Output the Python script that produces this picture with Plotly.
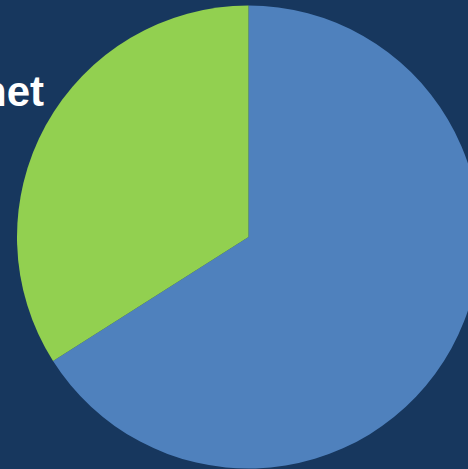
import plotly.graph_objects as go

labels = ["Other", "Internet"]
values = [66, 34]
colors = ["#4F81BD", "#92D050"]
title_text = "Internet"

W, H = 480, 469
fig = go.Figure(go.Pie(
    labels=labels,
    values=values,
    sort=False,
    direction="clockwise",
    rotation=0,
    marker=dict(colors=colors, line=dict(width=0)),
    textinfo="none",
    hoverinfo="label+percent",
    domain=dict(x=[17 / W, 1], y=[0.5 / H, 463.5 / H]),
))
fig.add_annotation(
    text="<b>" + title_text + "</b>",
    xref="paper", yref="paper",
    x=46 / W, y=1 - 117 / H,
    xanchor="right", yanchor="bottom",
    showarrow=False,
    font=dict(family="Liberation Sans Narrow, Arial", size=42, color="white"),
)
fig.update_layout(
    width=W, height=H,
    margin=dict(l=0, r=0, t=0, b=0),
    paper_bgcolor="#17375E",
    plot_bgcolor="#17375E",
    showlegend=False,
)
fig.write_html("out.html", config={"displayModeBar": False},
               post_script="document.body.style.margin='0';document.body.style.overflow='hidden';document.documentElement.style.overflow='hidden';")
